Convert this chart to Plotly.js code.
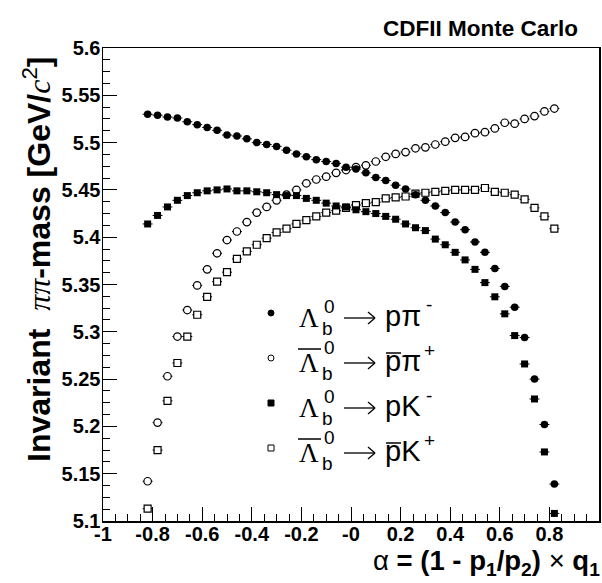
<!DOCTYPE html>
<html><head><meta charset="utf-8">
<script src="https://cdn.plot.ly/plotly-3.0.1.min.js"></script>
<style>html,body{margin:0;padding:0;background:#fff;overflow:hidden}</style>
</head><body><div id="chart" style="width:602px;height:583px"></div>
<script>
// ---- data ----
const alpha = [-0.82,-0.78,-0.74,-0.70,-0.66,-0.62,-0.58,-0.54,-0.50,-0.46,-0.42,-0.38,-0.34,-0.30,-0.26,-0.22,-0.18,-0.14,-0.10,-0.06,-0.02,
               0.02,0.06,0.10,0.14,0.18,0.22,0.26,0.30,0.34,0.38,0.42,0.46,0.50,0.54,0.58,0.62,0.66,0.70,0.74,0.78,0.82];
// Lambda_b -> p pi-  (filled circles)
const massLbPpi = [5.530,5.529,5.527,5.526,5.522,5.519,5.516,5.513,5.508,5.507,5.504,5.500,5.498,5.496,5.492,5.488,5.485,5.482,5.480,5.478,5.474,
                   5.472,5.468,5.463,5.460,5.455,5.451,5.445,5.439,5.433,5.426,5.416,5.408,5.395,5.384,5.367,5.348,5.326,5.294,5.250,5.202,5.139];
// anti-Lambda_b -> pbar pi+ (open circles)
const massLbbarPpi = [5.142,5.204,5.253,5.295,5.323,5.349,5.366,5.383,5.397,5.406,5.416,5.426,5.432,5.439,5.445,5.450,5.457,5.461,5.464,5.468,5.471,
                      5.474,5.476,5.480,5.485,5.488,5.490,5.494,5.495,5.498,5.501,5.505,5.506,5.510,5.511,5.515,5.521,5.520,5.525,5.528,5.533,5.536];
// Lambda_b -> p K- (filled squares)
const massLbPK = [5.414,5.423,5.432,5.439,5.444,5.447,5.449,5.450,5.451,5.449,5.449,5.448,5.447,5.445,5.444,5.444,5.441,5.439,5.436,5.433,5.432,
                  5.429,5.427,5.425,5.422,5.419,5.414,5.410,5.407,5.398,5.392,5.384,5.376,5.366,5.352,5.337,5.319,5.296,5.266,5.229,5.173,5.108];
// anti-Lambda_b -> pbar K+ (open squares)
const massLbbarPK = [5.113,5.175,5.227,5.267,5.295,5.318,5.337,5.353,5.363,5.377,5.385,5.392,5.399,5.405,5.409,5.414,5.418,5.422,5.426,5.428,5.431,
                     5.434,5.436,5.437,5.441,5.442,5.443,5.446,5.447,5.448,5.449,5.450,5.450,5.450,5.452,5.448,5.447,5.445,5.440,5.431,5.422,5.409];
const alphaErr = 0.02;

const xTickVals = [-1,-0.8,-0.6,-0.4,-0.2,0,0.2,0.4,0.6,0.8,1];
const xTickText = ['-1','-0.8','-0.6','-0.4','-0.2','-0','0.2','0.4','0.6','0.8','1'];
const yTickVals = [5.1,5.15,5.2,5.25,5.3,5.35,5.4,5.45,5.5,5.55,5.6];
const yTickText = ['5.1','5.15','5.2','5.25','5.3','5.35','5.4','5.45','5.5','5.55','5.6'];

const legendFinal = ['pπ','pπ','pK','pK'];
const legendCharge = ['-','+','-','+'];
const legendBarred = [false,true,false,true];

// ---- layout helpers ----
const L=103, R=599, T=48, B=521;
const px = x => (x-L)/(R-L);
const py = y => (B-y)/(B-T);
const SANS = 'Liberation Sans, Arial, sans-serif';
const SERIF = 'Liberation Serif, Times New Roman, serif';
const bold = arr => arr.map(s => '<b>'+s+'</b>');

function series(y, symbol, fill, size, lw){
  return {x: alpha, y: y, type:'scatter', mode:'markers', showlegend:false, hoverinfo:'skip',
    marker:{symbol:symbol, size:size, color:fill, line:{color:'#000', width:lw}},
    error_x:{type:'constant', value:alphaErr, width:0, thickness:1, color:'#000'}};
}
const data = [
  series(massLbbarPpi,'circle','#fff',7.5,1.2),
  series(massLbbarPK,'square','#fff',7,1.2),
  series(massLbPpi,'circle','#000',7.5,0),
  series(massLbPK,'square','#000',7,0)
];

function ann(text,x,y,size,family,opts){
  opts = opts||{};
  return Object.assign({text:text, x:px(x), y:py(y), xref:'paper', yref:'paper', showarrow:false,
    xanchor:'center', yanchor:'middle', borderpad:0,
    font:{family:family, size:size, color:'#000'}}, opts);
}
function seg(x0,y0,x1,y1,w){
  return {type:'line', xref:'paper', yref:'paper', x0:px(x0), x1:px(x1), y0:py(y0), y1:py(y1), line:{color:'#000', width:w}};
}

const annotations = [];
const shapes = [];
annotations.push(ann('<b>CDFII Monte Carlo</b>',579,29,22.5,SANS,{xanchor:'right'}));
annotations.push(ann('<b>Invariant\u00a0\u00a0</b><span style="font-family:Liberation Serif;font-style:italic">ππ</span><b>-mass [GeV/</b><span style="font-family:Liberation Serif;font-style:italic">c</span><sup>2</sup><b>]</b>',
  37,259,32,SANS,{textangle:-90}));
annotations.push(ann('α <b>= (1 - p<sub>1</sub>/p<sub>2</sub>)</b> × <b>q<sub>1</sub></b>',601,562,27.5,SANS,{xanchor:'right'}));

const legendY = [313,358,403,448];
const legendSym = ['circle','circle','rect','rect'];
const legendFill = ['#000','#fff','#000','#fff'];
for(let i=0;i<4;i++){
  const my = legendY[i];
  shapes.push({type:legendSym[i], xref:'paper', yref:'paper', xsizemode:'pixel', ysizemode:'pixel',
    xanchor:px(271), yanchor:py(my), x0:-3, x1:3, y0:-3, y1:3,
    fillcolor:legendFill[i], line:{color:'#000', width:1}});
  annotations.push(ann('Λ',309,my+5,27,SERIF));
  annotations.push(ann('0',329,my-(legendBarred[i]?11:7),19,SANS));
  annotations.push(ann('b',327,my+15,19,SANS));
  // reaction arrow
  const ay = my+5;
  shapes.push(seg(344,ay,375,ay,1.3));
  shapes.push(seg(368,ay-6,375,ay,1.3));
  shapes.push(seg(368,ay+6,375,ay,1.3));
  annotations.push(ann(legendFinal[i],384,my+3,29,SANS,{xanchor:'left'}));
  annotations.push(ann(legendCharge[i],429,my-8,19,SANS));
  if(legendBarred[i]){
    shapes.push(seg(298,my-9,321,my-9,1.5));
    shapes.push(seg(386,my-5,401,my-5,1.5));
  }
}

const tickfont = {family:SANS, size:20, color:'#000'};
const layout = {
  width:602, height:583, margin:{l:L, r:602-R, t:T, b:583-B},
  paper_bgcolor:'#fff', plot_bgcolor:'#fff', showlegend:false,
  xaxis:{range:[-1,1], tickmode:'array', tickvals:xTickVals, ticktext:bold(xTickText), ticks:'inside', ticklen:14, tickwidth:1, tickcolor:'#000',
    ticklabelstandoff:-6,
    showline:true, linewidth:1.5, linecolor:'#000', mirror:true, showgrid:false, zeroline:false, tickfont:tickfont,
    minor:{dtick:0.05, tick0:-1, ticks:'inside', ticklen:7, tickwidth:1, tickcolor:'#000', showgrid:false}},
  yaxis:{range:[5.1,5.6], tickmode:'array', tickvals:yTickVals, ticktext:bold(yTickText), ticks:'inside', ticklen:14, tickwidth:1, tickcolor:'#000',
    ticklabelstandoff:-3,
    showline:true, linewidth:1.5, linecolor:'#000', mirror:true, showgrid:false, zeroline:false, tickfont:tickfont,
    minor:{dtick:0.0125, tick0:5.1, ticks:'inside', ticklen:7, tickwidth:1, tickcolor:'#000', showgrid:false}},
  annotations:annotations, shapes:shapes
};
Plotly.newPlot('chart', data, layout, {staticPlot:true, displayModeBar:false});
</script></body></html>
